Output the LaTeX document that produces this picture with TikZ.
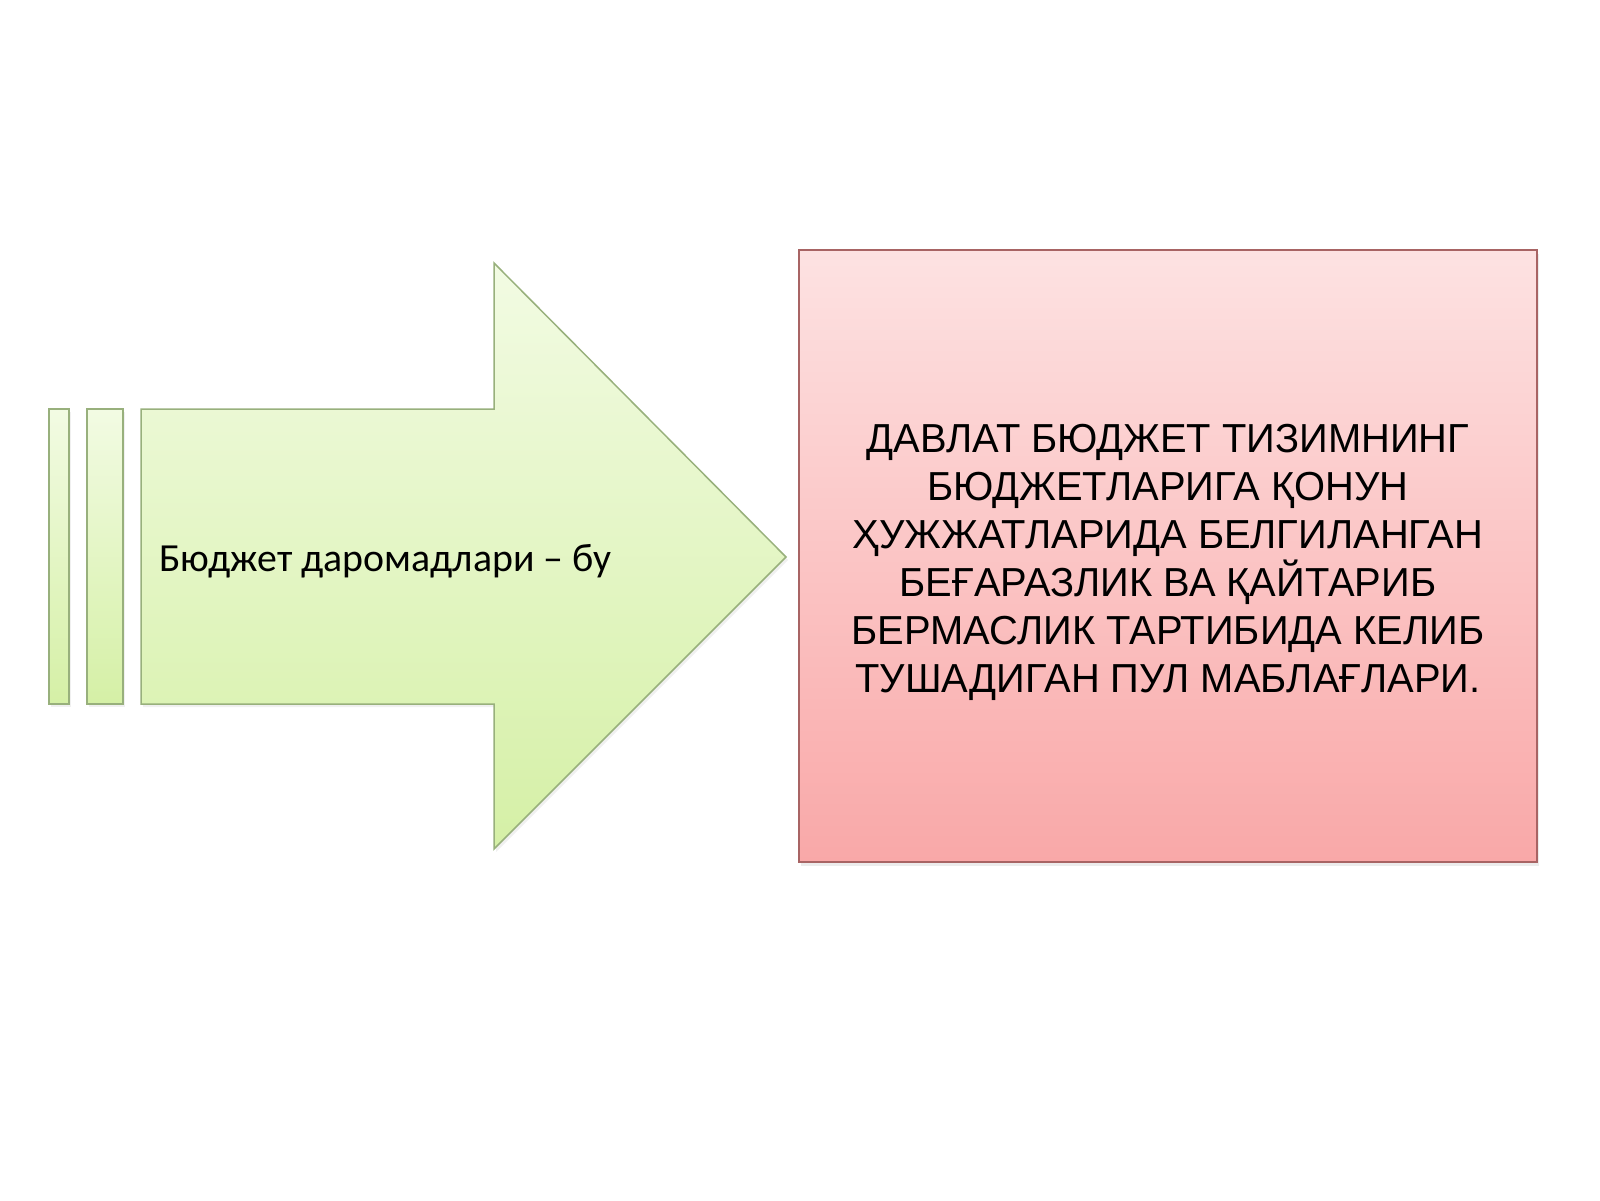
\documentclass[tikz,border=0pt]{standalone}
\usepackage{fontspec}
\setmainfont{Liberation Sans}[FakeStretch=0.985]
\newfontfamily\calibrifont{Carlito}
\usetikzlibrary{positioning,shadows}

\definecolor{greentop}{HTML}{F2FBE3}
\definecolor{greenbot}{HTML}{D5F0A6}
\definecolor{greenedge}{HTML}{98B07C}
\definecolor{pinktop}{HTML}{FDE2E2}
\definecolor{pinkbot}{HTML}{F9A8A8}
\definecolor{pinkedge}{HTML}{A86464}

\tikzset{
  greenpart/.style={draw=greenedge, line width=1.5pt, top color=greentop, bottom color=greenbot,
    drop shadow={opacity=0.12, shadow xshift=2pt, shadow yshift=-3pt}},
  pinkbox/.style={draw=pinkedge, line width=1.5pt, top color=pinktop, bottom color=pinkbot,
    drop shadow={opacity=0.15, shadow xshift=2pt, shadow yshift=-4pt}}
}

\begin{document}
\begin{tikzpicture}[x=1pt,y=-1pt]
      \useasboundingbox (0,0) rectangle (1600,1200);
      % the two thin bars before the arrow
      \draw [greenpart] (49,409) rectangle (69,704);
      \draw [greenpart] (87,409) rectangle (123,704);
      % the arrow
      \draw [greenpart] (141,409) -- (494,409) -- (494,263) -- (786,557)
        -- (494,849) -- (494,704) -- (141,704) -- cycle;
      \node [font=\calibrifont\fontsize{39.8}{46}\selectfont, anchor=west, inner sep=0pt] (lhs) at (159,561) {Бюджет даромадлари – бу};
      % the box
      \draw [pinkbox] (799,250) rectangle (1537,862);
      \node [font=\fontsize{40.5}{48}\selectfont, align=center, inner sep=0pt] (rhs) at (1168,562)
        {ДАВЛАТ БЮДЖЕТ ТИЗИМНИНГ\\
         БЮДЖЕТЛАРИГА ҚОНУН\\
         ҲУЖЖАТЛАРИДА БЕЛГИЛАНГАН\\
         БЕҒАРАЗЛИК ВА ҚАЙТАРИБ\\
         БЕРМАСЛИК ТАРТИБИДА КЕЛИБ\\
         ТУШАДИГАН ПУЛ МАБЛАҒЛАРИ.};
  \end{tikzpicture}
\end{document}
